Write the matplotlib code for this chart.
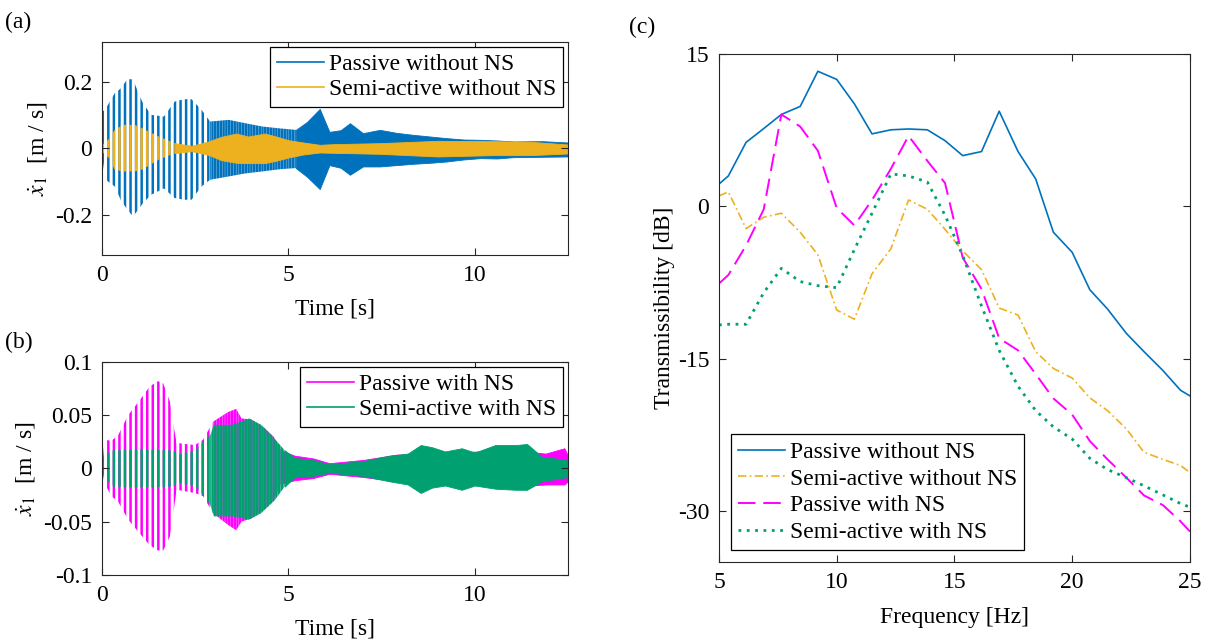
import matplotlib
matplotlib.use('Agg')
import matplotlib.pyplot as plt
from matplotlib.lines import Line2D

# (a) envelope of the velocity response without NS
tPassiveNoNS = [0, 0.05, 0.1, 0.34, 0.5, 0.68, 0.83, 1.0, 1.1, 1.32, 1.66,
                1.95, 2.2, 2.4, 2.67, 2.9, 3.4, 3.84, 4.3, 4.8, 5.2, 5.5,
                5.84, 6.1, 6.4, 6.65, 7.0, 7.45, 7.9, 8.35, 8.8, 9.25, 9.7,
                10.15, 10.6, 11.05, 11.8, 12.5]
upPassiveNoNS = [0.11, 0.114, 0.12, 0.166, 0.18, 0.208, 0.208, 0.16, 0.136,
                 0.101, 0.096, 0.141, 0.148, 0.148, 0.116, 0.081, 0.086,
                 0.076, 0.066, 0.06, 0.056, 0.08, 0.119, 0.05, 0.055, 0.076,
                 0.046, 0.056, 0.047, 0.041, 0.036, 0.031, 0.027, 0.026,
                 0.024, 0.021, 0.022, 0.018]
loPassiveNoNS = [-0.02, -0.06, -0.094, -0.114, -0.154, -0.184, -0.204,
                 -0.18, -0.164, -0.139, -0.12, -0.149, -0.154, -0.154,
                 -0.114, -0.094, -0.084, -0.075, -0.069, -0.062, -0.059,
                 -0.085, -0.122, -0.05, -0.058, -0.079, -0.054, -0.054,
                 -0.05, -0.046, -0.043, -0.039, -0.033, -0.029, -0.03,
                 -0.026, -0.025, -0.024]

tSemiNoNS = [0, 0.2, 0.34, 0.57, 0.88, 1.07, 1.52, 1.95, 2.4, 2.85, 3.2,
             3.6, 3.92, 4.37, 4.7, 5.0, 5.4, 5.84, 6.2, 7.45, 9.0, 10.5,
             11.5, 12.5]
upSemiNoNS = [0.01, 0.03, 0.056, 0.071, 0.071, 0.061, 0.036, 0.016, 0.008,
              0.021, 0.035, 0.045, 0.036, 0.045, 0.035, 0.025, 0.018, 0.011,
              0.013, 0.016, 0.023, 0.022, 0.02, 0.012]
loSemiNoNS = [-0.01, -0.03, -0.064, -0.069, -0.069, -0.064, -0.034, -0.014,
              -0.008, -0.019, -0.035, -0.043, -0.044, -0.044, -0.036, -0.027,
              -0.018, -0.012, -0.013, -0.016, -0.024, -0.02, -0.02, -0.015]

# (b) envelope of the velocity response with NS
tPassiveNS = [0, 0.07, 0.25, 0.43, 0.7, 1.01, 1.28, 1.5, 1.64, 1.82, 1.92,
              2.0, 2.49, 2.71, 2.98, 3.38, 3.6, 3.74, 4.0, 4.36, 4.6, 4.8,
              5.17, 5.66, 6.1, 7.0, 7.9, 8.8, 9.5, 10.1, 11.0, 11.9, 12.4,
              12.5]
upPassiveNS = [0.0, 0.027, 0.026, 0.031, 0.050, 0.064, 0.077, 0.082, 0.080,
               0.063, 0.04, 0.024, 0.022, 0.027, 0.044, 0.053, 0.056, 0.047,
               0.046, 0.038, 0.03, 0.017, 0.012, 0.0095, 0.005, 0.008, 0.013,
               0.013, 0.015, 0.016, 0.017, 0.014, 0.019, 0.012]
loPassiveNS = [0.0, -0.014, -0.026, -0.031, -0.048, -0.061, -0.072, -0.077,
               -0.077, -0.064, -0.04, -0.02, -0.023, -0.026, -0.042, -0.053,
               -0.058, -0.05, -0.047, -0.038, -0.03, -0.014, -0.011, -0.009,
               -0.005, -0.008, -0.012, -0.013, -0.014, -0.014, -0.017,
               -0.015, -0.015, -0.012]

tSemiNS = [0, 0.07, 0.3, 1.0, 1.9, 2.04, 2.49, 2.76, 2.9, 3.0, 3.5, 3.95,
           4.27, 4.63, 4.9, 5.17, 5.66, 6.1, 7.0, 7.7, 8.2, 8.55, 8.85, 9.2,
           9.65, 10.0, 10.55, 11.1, 11.4, 11.8, 12.5]
upSemiNS = [0.0, 0.013, 0.017, 0.018, 0.017, 0.013, 0.017, 0.027, 0.031,
            0.041, 0.041, 0.047, 0.041, 0.028, 0.017, 0.01, 0.008, 0.004,
            0.007, 0.012, 0.014, 0.022, 0.02, 0.016, 0.019, 0.015, 0.022,
            0.022, 0.023, 0.011, 0.008]
loSemiNS = [0.0, -0.009, -0.017, -0.018, -0.017, -0.013, -0.017, -0.027,
            -0.034, -0.045, -0.045, -0.048, -0.042, -0.030, -0.017, -0.008,
            -0.007, -0.004, -0.007, -0.012, -0.015, -0.023, -0.018, -0.016,
            -0.020, -0.016, -0.019, -0.02, -0.02, -0.012, -0.008]

# (c) transmissibility
freq = [5.0, 5.4, 6.15, 6.9, 7.65, 8.45, 9.2, 10.0, 10.75, 11.5, 12.3,
        13.05, 13.85, 14.6, 15.35, 16.15, 16.9, 17.7, 18.45, 19.2, 20.0,
        20.75, 21.5, 22.3, 23.05, 23.85, 24.6, 25.0]
trPassiveNoNS = [2.2, 3.0, 6.3, 7.66, 9.05, 9.84, 13.3, 12.5, 10.1, 7.14,
                 7.54, 7.62, 7.54, 6.47, 5.0, 5.4, 9.37, 5.4, 2.7, -2.54,
                 -4.52, -8.21, -10.1, -12.5, -14.3, -16.15, -18.1, -18.65]
trSemiNoNS = [1.03, 1.43, -2.18, -1.07, -0.67, -2.54, -4.76, -10.2, -11.1,
              -6.63, -4.17, 0.63, -0.28, -2.26, -4.37, -6.23, -10.0, -10.7,
              -14.3, -15.95, -16.9, -18.85, -20.1, -21.9, -24.2, -24.9,
              -25.5, -26.2]
trPassiveNS = [-7.6, -6.75, -3.85, -0.3, 9.05, 7.86, 5.48, -0.16, -1.87,
               0.63, 3.7, 6.94, 4.48, 2.3, -5.04, -8.13, -12.98, -14.17,
               -16.5, -18.9, -20.5, -23.1, -24.9, -26.7, -28.45, -29.4,
               -31.0, -32.0]
trSemiNS = [-11.67, -11.6, -11.6, -8.5, -6.1, -7.4, -7.8, -8.0, -4.25,
            -0.67, 3.2, 3.0, 2.4, -0.87, -4.84, -9.8, -14.17, -17.7, -20.1,
            -21.7, -22.9, -24.8, -25.9, -26.7, -27.5, -28.4, -29.25, -29.6]

BLUE = '#0072BD'
ORANGE = '#EDB120'
MAGENTA = '#FF00FF'
GREEN = '#00A070'
AXCOL = '#262626'


def StyleAxes(ax):
    for s in ax.spines.values():
        s.set_color(AXCOL)
        s.set_linewidth(0.8)
    ax.tick_params(direction='in', top=True, right=True, length=5,
                   width=0.8, color=AXCOL, labelcolor='black', pad=7)


def Legend(ax, handles, **kw):
    leg = ax.legend(handles=handles, fancybox=False, framealpha=1,
                    edgecolor='black', handlelength=2.0, handletextpad=0.2,
                    **kw)
    leg.get_frame().set_linewidth(0.9)
    return leg


def Envelope(ax, t, lo, up, col, split1, split2):
    # slow cycles drawn as stripes, faster ones denser, the rest as a band
    early = [x <= split1 for x in t]
    mid = [split1 <= x <= split2 for x in t]
    late = [x >= split2 for x in t]
    ax.fill_between(t, lo, up, where=early, facecolor='none',
                    edgecolor=col, hatch='|||', lw=0)
    ax.fill_between(t, lo, up, where=mid, facecolor='none',
                    edgecolor=col, hatch='||||||', lw=0)
    ax.fill_between(t, lo, up, where=late, color=col, edgecolor=col, lw=0.6)


def TimePanel(ax, series, ylim, yticks, yticklabels):
    handles = []
    for t, lo, up, col, name, s1, s2 in series:
        Envelope(ax, t, lo, up, col, s1, s2)
        handles.append(Line2D([], [], color=col, lw=1.2, label=name))
    ax.set_xlim(0, 12.5)
    ax.set_ylim(*ylim)
    ax.set_xticks([0, 5, 10])
    ax.set_yticks(yticks)
    ax.set_yticklabels(yticklabels)
    ax.set_xlabel('Time [s]', labelpad=9)
    ax.set_ylabel(r'$\dot{x}_1$  [m / s]', labelpad=4)
    StyleAxes(ax)
    Legend(ax, handles, loc='upper right', borderaxespad=0.2,
           labelspacing=0.15, borderpad=0.3)


def main():
    plt.rcParams['font.family'] = ['Liberation Serif', 'DejaVu Serif']
    plt.rcParams['mathtext.fontset'] = 'stix'
    plt.rcParams['font.size'] = 17
    plt.rcParams['axes.unicode_minus'] = False
    plt.rcParams['hatch.linewidth'] = 1.8

    fig = plt.figure(figsize=(12.13, 6.4), dpi=100)
    axA = fig.add_axes([0.0841, 0.6016, 0.3842, 0.3328])
    axB = fig.add_axes([0.0841, 0.1016, 0.3842, 0.3328])
    axC = fig.add_axes([0.5927, 0.1219, 0.3883, 0.7937])

    TimePanel(axA,
              [(tPassiveNoNS, loPassiveNoNS, upPassiveNoNS, BLUE,
                'Passive without NS', 2.9, 5.2),
               (tSemiNoNS, loSemiNoNS, upSemiNoNS, ORANGE,
                'Semi-active without NS', 1.95, 1.95)],
              (-0.32, 0.32), [-0.2, 0, 0.2], ['-0.2', '0', '0.2'])
    TimePanel(axB,
              [(tPassiveNS, loPassiveNS, upPassiveNS, MAGENTA,
                'Passive with NS', 2.98, 4.8),
               (tSemiNS, loSemiNS, upSemiNS, GREEN, 'Semi-active with NS',
                2.9, 4.9)],
              (-0.1, 0.1), [-0.1, -0.05, 0, 0.05, 0.1],
              ['-0.1', '-0.05', '0', '0.05', '0.1'])

    axC.plot(freq, trPassiveNoNS, color=BLUE, lw=1.2,
             label='Passive without NS')
    axC.plot(freq, trSemiNoNS, color=ORANGE, lw=1.2, dashes=(5, 2, 1, 2),
             label='Semi-active without NS')
    axC.plot(freq, trPassiveNS, color=MAGENTA, lw=1.4, dashes=(9, 4),
             label='Passive with NS')
    axC.plot(freq, trSemiNS, color=GREEN, lw=2.0, dashes=(1, 2),
             label='Semi-active with NS')
    axC.set_xlim(5, 25)
    axC.set_ylim(-35, 15)
    axC.set_xticks([5, 10, 15, 20, 25])
    axC.set_yticks([-30, -15, 0, 15])
    axC.set_xlabel('Frequency [Hz]', labelpad=10)
    axC.set_ylabel('Transmissibility [dB]', labelpad=2)
    StyleAxes(axC)
    hC, lC = axC.get_legend_handles_labels()
    Legend(axC, hC, loc='lower left', borderaxespad=0.5,
           labelspacing=0.22, borderpad=0.3)

    fig.text(0.004, 1 - 22 / 640, '(a)', va='center')
    fig.text(0.004, 1 - 342 / 640, '(b)', va='center')
    fig.text(0.5185, 1 - 27 / 640, '(c)', va='center')

    fig.savefig('out.png', dpi=100)


if __name__ == "__main__":
    main()
